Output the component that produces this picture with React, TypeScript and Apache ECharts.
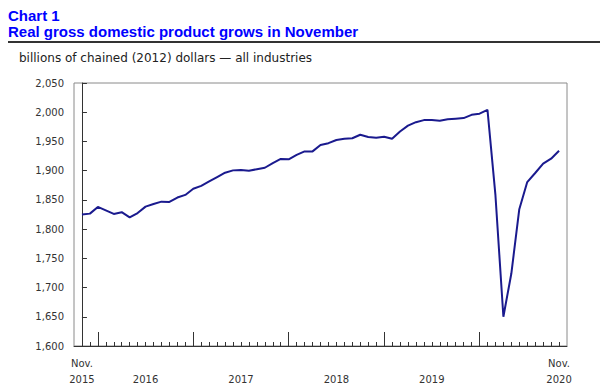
import React, { useEffect, useRef } from "react";
import * as echarts from "echarts";

// Monthly values, Nov. 2015 .. Nov. 2020 (billions of chained 2012 dollars)
const months: string[] = [
  "2015-11", "2015-12",
  "2016-01", "2016-02", "2016-03", "2016-04", "2016-05", "2016-06", "2016-07", "2016-08", "2016-09", "2016-10", "2016-11", "2016-12",
  "2017-01", "2017-02", "2017-03", "2017-04", "2017-05", "2017-06", "2017-07", "2017-08", "2017-09", "2017-10", "2017-11", "2017-12",
  "2018-01", "2018-02", "2018-03", "2018-04", "2018-05", "2018-06", "2018-07", "2018-08", "2018-09", "2018-10", "2018-11", "2018-12",
  "2019-01", "2019-02", "2019-03", "2019-04", "2019-05", "2019-06", "2019-07", "2019-08", "2019-09", "2019-10", "2019-11", "2019-12",
  "2020-01", "2020-02", "2020-03", "2020-04", "2020-05", "2020-06", "2020-07", "2020-08", "2020-09", "2020-10", "2020-11",
];

const gdp: number[] = [
  1825, 1826.5,
  1838, 1832, 1826, 1829, 1820, 1827.5, 1838.5, 1843, 1847, 1846.5, 1854, 1858.5,
  1869, 1874, 1881.5, 1889, 1896.5, 1900.5, 1901, 1900, 1902.5, 1905, 1913, 1920,
  1919.5, 1927, 1933, 1933, 1944, 1947, 1952.5, 1954.5, 1955.5, 1961.5, 1957.5, 1956.5,
  1958, 1954.5, 1967, 1977, 1983, 1986.5, 1986.5, 1985.5, 1988, 1989, 1990, 1995.5,
  1997.5, 2004, 1858, 1650, 1724, 1834, 1880.5, 1896, 1912, 1920.5, 1934,
];

// x-axis tick positions (month indices)
const minorTicks: number[] = months.map((_, i) => i);
const majorTicks: number[] = [2, 14, 26, 38, 50]; // January of each year
const xLabelPositions: number[] = [0, 8, 20, 32, 44, 60];
const xLabelTexts: string[] = ["Nov.\n2015", "\n2016", "\n2017", "\n2018", "\n2019", "Nov.\n2020"];

const yMin = 1600;
const yMax = 2050;
const yStep = 50;

const titleLine1 = "Chart 1";
const titleLine2 = "Real gross domestic product grows in November";
const unitText = "billions of chained (2012) dollars \u2014 all industries";

export default function App() {
  const ref = useRef<HTMLDivElement>(null);

  useEffect(() => {
    if (!ref.current) return;
    const chart = echarts.init(ref.current, undefined, { renderer: "svg" });
    const axisColor = "#333333";
    const font = "DejaVu Sans, Verdana, sans-serif";
    chart.setOption({
      animation: false,
      grid: {
        left: 74,
        right: 33,
        top: 83,
        bottom: 45,
        show: true,
        borderColor: "#8a8a8a",
        borderWidth: 1,
        backgroundColor: "transparent",
      },
      graphic: [
        {
          type: "text",
          left: 8,
          top: 8,
          style: {
            text: titleLine1,
            fill: "#0000ff",
            font: "bold 15px 'Liberation Sans', Arial, sans-serif",
            lineHeight: 15,
          },
        },
        {
          type: "text",
          left: 8,
          top: 23.5,
          style: {
            text: titleLine2,
            fill: "#0000ff",
            font: "bold 15px 'Liberation Sans', Arial, sans-serif",
            lineHeight: 15,
          },
        },
        {
          type: "rect",
          shape: { x: 8, y: 41, width: 592, height: 2 },
          style: { fill: "#333333" },
        },
        {
          type: "text",
          left: 19,
          top: 52,
          style: {
            text: unitText,
            fill: "#222222",
            font: "12px 'DejaVu Sans', Verdana, sans-serif",
          },
        },
      ],
      xAxis: [
        {
          type: "value",
          position: "bottom",
          min: -1,
          max: 61,
          splitLine: { show: false },
          axisLine: { show: true, lineStyle: { color: axisColor, width: 1 } },
          axisTick: {
            show: true,
            inside: true,
            length: 4,
            customValues: minorTicks,
            lineStyle: { color: axisColor, width: 1 },
          },
          axisLabel: {
            show: true,
            customValues: xLabelPositions,
            formatter: (v: number) => {
              const idx = xLabelPositions.indexOf(Math.round(v));
              return idx >= 0 ? xLabelTexts[idx] : "";
            },
            color: axisColor,
            fontFamily: font,
            fontSize: 10,
            lineHeight: 16,
            margin: 9,
          },
        },
        {
          type: "value",
          position: "bottom",
          min: -1,
          max: 61,
          splitLine: { show: false },
          axisLine: { show: false },
          axisTick: {
            show: true,
            inside: true,
            length: 14,
            customValues: majorTicks,
            lineStyle: { color: axisColor, width: 1 },
          },
          axisLabel: { show: false },
        },
      ],
      yAxis: {
        type: "value",
        min: yMin,
        max: yMax,
        interval: yStep,
        splitLine: { show: false },
        axisLine: { show: true, lineStyle: { color: axisColor, width: 1 } },
        axisTick: { show: true, inside: true, length: 5, lineStyle: { color: axisColor } },
        axisLabel: {
          color: axisColor,
          fontFamily: font,
          fontSize: 10,
          margin: 10,
          formatter: (v: number) => v.toLocaleString("en-US"),
        },
      },
      series: [
        {
          type: "line",
          xAxisIndex: 0,
          data: gdp.map((v, i) => [i, v]),
          showSymbol: false,
          symbol: "none",
          lineStyle: { color: "#1a1a8e", width: 2 },
        },
      ],
    });
    return () => chart.dispose();
  }, []);

  return (
    <div
      ref={ref}
      style={{ position: "fixed", left: 0, top: 0, width: 600, height: 391, background: "#ffffff" }}
    />
  );
}
